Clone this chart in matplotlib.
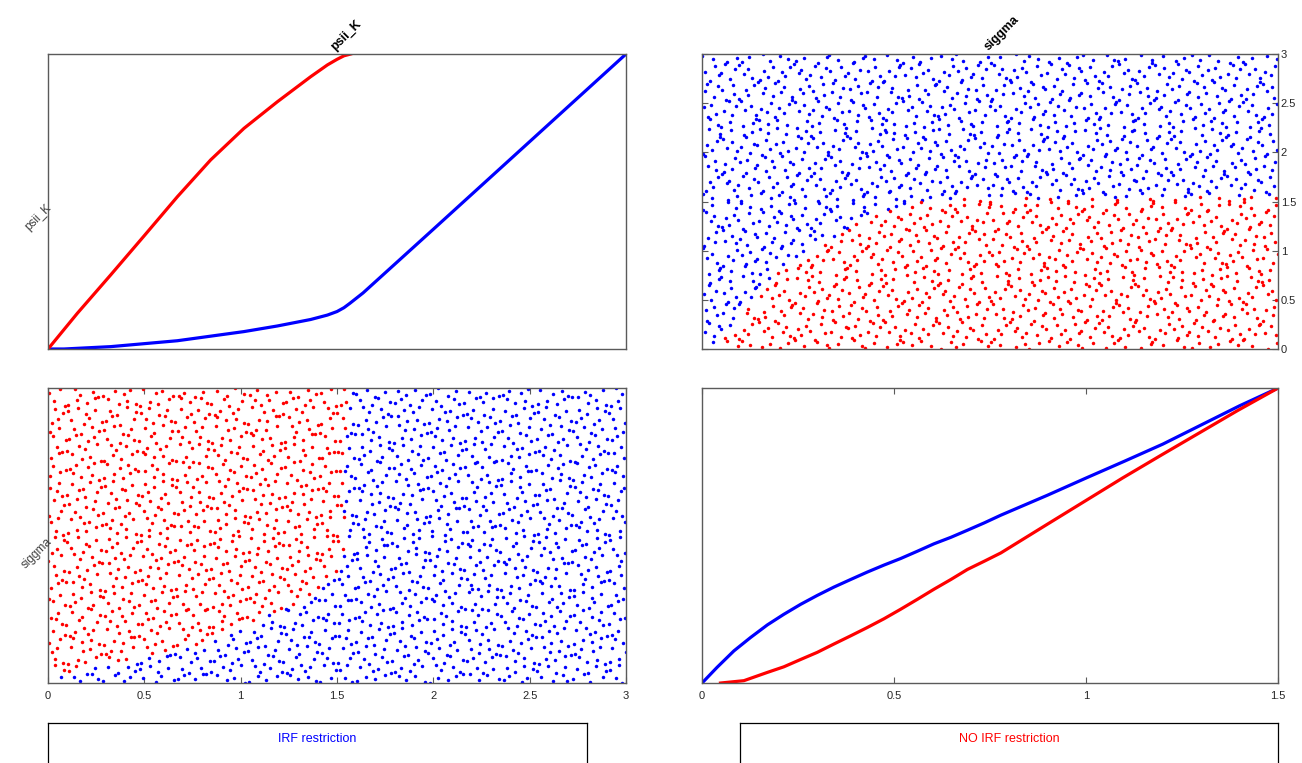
import numpy as np
import matplotlib
matplotlib.use('Agg')
import matplotlib.pyplot as plt

plt.rcParams['font.family'] = ['Liberation Sans', 'DejaVu Sans']

# parameter names and prior bounds
par_names = ['psii_K', 'siggma']
psii_bounds = [0.0, 3.0]
siggma_bounds = [0.0, 1.5]
n_draws = 2048

# CDF of psii_K
psii_cdf_x_irf = [0.0, 0.083, 0.325, 0.671, 1.017, 1.19, 1.363, 1.45, 1.5, 1.536, 1.567, 1.6, 1.635, 2.0, 2.5, 3.0]
psii_cdf_y_irf = [0.0, 0.0, 0.008, 0.028, 0.059, 0.078, 0.1, 0.115, 0.127, 0.14, 0.155, 0.172, 0.19, 0.406, 0.703, 1.0]
psii_cdf_x_no = [0.0, 0.152, 0.325, 0.498, 0.671, 0.844, 1.017, 1.19, 1.363, 1.45, 1.5, 1.536, 1.571]
psii_cdf_y_no = [0.0, 0.121, 0.251, 0.383, 0.516, 0.641, 0.748, 0.838, 0.923, 0.963, 0.982, 0.994, 1.0]

# CDF of siggma
sig_cdf_x_irf = [0.0, 0.039, 0.083, 0.126, 0.17, 0.213, 0.257, 0.3, 0.343, 0.387, 0.43, 0.474, 0.517,
	0.561, 0.604, 0.648, 0.691, 0.735, 0.778, 0.9, 1.0, 1.1, 1.2, 1.3, 1.4, 1.5]
sig_cdf_y_irf = [0.0, 0.053, 0.109, 0.154, 0.197, 0.233, 0.267, 0.297, 0.325, 0.351, 0.376, 0.4, 0.422,
	0.447, 0.472, 0.494, 0.518, 0.543, 0.569, 0.637, 0.695, 0.752, 0.81, 0.875, 0.94, 1.0]
sig_cdf_x_no = [0.048, 0.109, 0.17, 0.213, 0.257, 0.3, 0.343, 0.387, 0.43, 0.474, 0.517, 0.561, 0.604,
	0.648, 0.691, 0.735, 0.778, 0.895, 0.995, 1.095, 1.195, 1.295, 1.395, 1.5]
sig_cdf_y_no = [0.0, 0.008, 0.036, 0.055, 0.08, 0.104, 0.132, 0.16, 0.188, 0.218, 0.25, 0.284, 0.318,
	0.351, 0.385, 0.413, 0.441, 0.535, 0.615, 0.695, 0.772, 0.848, 0.924, 1.0]

# edge between the two groups in the scatter plots: below psii_lim -> NO IRF restriction
edge_siggma = [0.0, 0.05, 0.1, 0.15, 0.2, 0.3, 0.4, 0.5, 0.6, 1.5]
edge_psii = [0.0, 0.1, 0.3, 0.58, 0.8, 1.03, 1.27, 1.45, 1.53, 1.55]

legend_txt = ['IRF restriction', 'NO IRF restriction']


def sobol_sample(n, dims):
	# Sobol design used for the Monte Carlo draws (Joe-Kuo direction numbers)
	table = {1: (0, 0, []), 2: (1, 0, [1]), 3: (2, 1, [1, 3]), 4: (3, 1, [1, 3, 1]),
		5: (3, 2, [1, 1, 1]), 6: (4, 1, [1, 1, 3, 3]), 7: (4, 4, [1, 3, 5, 13])}
	L = 30
	out = np.zeros((n, len(dims)))
	for j, d in enumerate(dims):
		s, a, m = table[d]
		V = [0] * (L + 1)
		if d == 1:
			for k in range(1, L + 1):
				V[k] = 1 << (L - k)
		else:
			for k in range(1, L + 1):
				if k <= s:
					V[k] = m[k - 1] << (L - k)
				else:
					v = V[k - s] ^ (V[k - s] >> s)
					for i in range(1, s):
						if (a >> (s - 1 - i)) & 1:
							v ^= V[k - i]
					V[k] = v
		x = 0
		for i in range(n):
			if i > 0:
				c = 1
				t = i - 1
				while t & 1:
					t >>= 1
					c += 1
				x ^= V[c]
			out[i, j] = x / float(1 << L)
	return out


u = sobol_sample(n_draws + 1, [3, 5])[1:]
psii = psii_bounds[0] + u[:, 0] * (psii_bounds[1] - psii_bounds[0])
siggma = siggma_bounds[0] + u[:, 1] * (siggma_bounds[1] - siggma_bounds[0])
no_irf = psii < np.interp(siggma, edge_siggma, edge_psii)
irf = ~no_irf

fig = plt.figure(figsize = (13.02, 7.63), dpi = 100)
ax1 = fig.add_axes([0.0369, 0.5426, 0.4439, 0.3866])
ax2 = fig.add_axes([0.5392, 0.5426, 0.4424, 0.3866])
ax3 = fig.add_axes([0.0369, 0.1048, 0.4439, 0.3866])
ax4 = fig.add_axes([0.5392, 0.1048, 0.4424, 0.3866])

for a in [ax1, ax2, ax3, ax4]:
	for sp in a.spines.values():
		sp.set_color('#5a5a5a')
		sp.set_linewidth(1.0)
	a.tick_params(direction = 'in', length = 4, width = 0.8, color = '#5a5a5a',
		labelsize = 8, labelcolor = '#262626')

lw = 2.3
ax1.plot(psii_cdf_x_irf, psii_cdf_y_irf, color = 'b', lw = lw)
ax1.plot(psii_cdf_x_no, psii_cdf_y_no, color = 'r', lw = lw)
ax1.set_xlim(psii_bounds)
ax1.set_ylim(0, 1)
ax1.set_xticks([])
ax1.set_yticks([])

ms = 2.5
ax2.plot(siggma[irf], psii[irf], 'o', color = 'b', ms = ms, mew = 0)
ax2.plot(siggma[no_irf], psii[no_irf], 'o', color = 'r', ms = ms, mew = 0)
ax2.set_xlim(siggma_bounds)
ax2.set_ylim(psii_bounds)
ax2.set_xticks([])
ax2.set_yticks(np.arange(0, 3.01, 0.5))
ax2.set_yticklabels(['0', '0.5', '1', '1.5', '2', '2.5', '3'])
ax2.yaxis.tick_right()
ax2.tick_params(axis = 'y', left = True, right = True, labelleft = False, labelright = True, pad = 2)

ax3.plot(psii[irf], siggma[irf], 'o', color = 'b', ms = ms, mew = 0)
ax3.plot(psii[no_irf], siggma[no_irf], 'o', color = 'r', ms = ms, mew = 0)
ax3.set_xlim(psii_bounds)
ax3.set_ylim(siggma_bounds)
ax3.set_yticks([])
ax3.set_xticks(np.arange(0, 3.01, 0.5))
ax3.set_xticklabels(['0', '0.5', '1', '1.5', '2', '2.5', '3'])
ax3.tick_params(axis = 'x', top = True, bottom = True, pad = 6)

ax4.plot(sig_cdf_x_irf, sig_cdf_y_irf, color = 'b', lw = lw)
ax4.plot(sig_cdf_x_no, sig_cdf_y_no, color = 'r', lw = lw)
ax4.set_xlim(siggma_bounds)
ax4.set_ylim(0, 1)
ax4.set_yticks([])
ax4.set_xticks([0, 0.5, 1, 1.5])
ax4.set_xticklabels(['0', '0.5', '1', '1.5'])
ax4.tick_params(axis = 'x', top = True, bottom = True, pad = 6)

# titles and labels, rotated the MATLAB way
for a, name in [(ax1, par_names[0]), (ax2, par_names[1])]:
	a.text(0.5, 1.005, name, transform = a.transAxes, rotation = 45, rotation_mode = 'anchor',
		ha = 'left', va = 'bottom', fontsize = 9, fontweight = 'bold', color = 'black')
for a, name in [(ax1, par_names[0]), (ax3, par_names[1])]:
	a.text(-0.004, 0.5, name, transform = a.transAxes, rotation = 45, rotation_mode = 'anchor',
		ha = 'right', va = 'top', fontsize = 8.5, color = '#404040')

# legend boxes
lg1 = fig.add_axes([0.0369, -0.05, 0.414, 0.1024])
lg2 = fig.add_axes([0.5684, -0.05, 0.4132, 0.1024])
for a, txt, col in [(lg1, legend_txt[0], 'b'), (lg2, legend_txt[1], 'r')]:
	a.set_xticks([])
	a.set_yticks([])
	for sp in a.spines.values():
		sp.set_color('black')
		sp.set_linewidth(0.9)
	a.text(0.5, 0.795, txt, transform = a.transAxes, ha = 'center', va = 'center',
		color = col, fontsize = 9)

fig.savefig('out.png', dpi = 100)
